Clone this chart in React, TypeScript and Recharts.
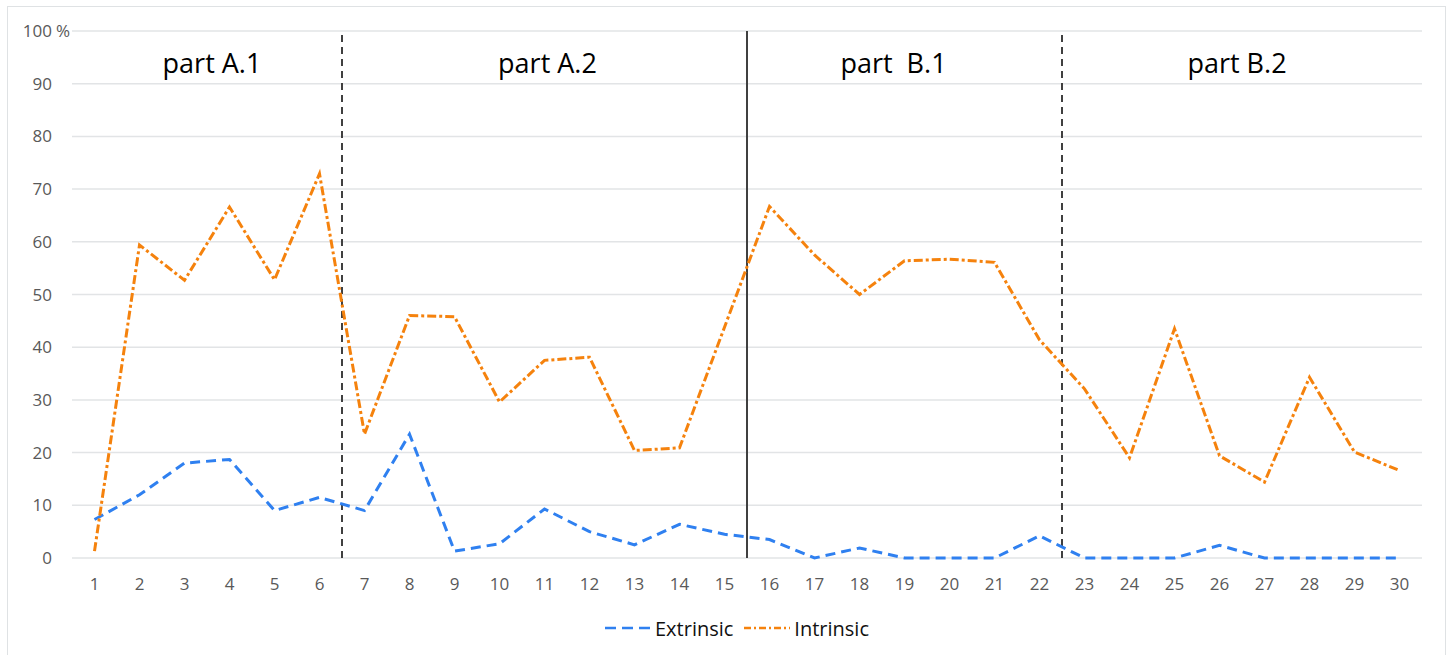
import {
  CartesianGrid,
  Legend,
  Line,
  LineChart,
  ReferenceArea,
  ReferenceLine,
  XAxis,
  YAxis,
} from "recharts";

const tasks = [
  1, 2, 3, 4, 5, 6, 7, 8, 9, 10, 11, 12, 13, 14, 15,
  16, 17, 18, 19, 20, 21, 22, 23, 24, 25, 26, 27, 28, 29, 30,
];
const extrinsic = [
  7.3, 12, 18, 18.7, 9, 11.5, 9, 23.5, 1.3, 2.7, 9.3, 5, 2.5, 6.4, 4.5,
  3.5, 0, 1.9, 0, 0, 0, 4.2, 0, 0, 0, 2.4, 0, 0, 0, 0,
];
const intrinsic = [
  1.3, 59.4, 52.7, 66.6, 52.8, 72.9, 23.5, 46, 45.8, 29.6, 37.5, 38.1, 20.4, 20.9, 43.8,
  66.7, 57.5, 50, 56.4, 56.7, 56.1, 41.4, 32.1, 19, 43.5, 19.4, 14.4, 34.3, 20.1, 16.6,
];
const yTicks = [0, 10, 20, 30, 40, 50, 60, 70, 80, 90, 100];
const partNames = ["part A.1", "part A.2", "part\u00a0\u00a0B.1", "part B.2"];
const partBounds = [0.5, 6.5, 15.5, 22.5, 30.5];
const dividerDash = ["7 5", undefined, "7 5"];

// the part titles sit a little off the middle of their sections
const titleShift = [5, 3, -11, -5];

const data = tasks.map((t, i) => ({
  t,
  extrinsic: extrinsic[i],
  intrinsic: intrinsic[i],
}));

const BLUE = "#2F80F0";
const ORANGE = "#F5820D";
const FONT = "'Open Sans', sans-serif";

function YTick(props: any) {
  const { x, y, payload } = props;
  return (
    <g>
      <text x={x} y={y} dy="0.355em" textAnchor="end" fill="#595959" fontSize={17} fontFamily={FONT}>
        {payload.value}
      </text>
      {payload.value === 100 && (
        <text x={x + 4} y={y} dy="0.355em" fill="#595959" fontSize={17} fontFamily={FONT}>
          %
        </text>
      )}
    </g>
  );
}

function PartTitle(props: any) {
  const { viewBox, value, shift } = props;
  const cx = viewBox.x + viewBox.width / 2 + shift;
  return (
    <text
      x={cx}
      y={viewBox.y + 22}
      dy="0.75em"
      textAnchor="middle"
      fill="#000"
      fontSize={27}
      fontFamily={FONT}
      style={{ whiteSpace: "pre" }}
    >
      {value}
    </text>
  );
}

function LegendBox() {
  const item = (label: string, color: string, dash: string, gap: number) => (
    <div style={{ display: "flex", alignItems: "center", marginRight: gap }}>
      <svg width={46} height={10}>
        <line x1={0} y1={5} x2={46} y2={5} stroke={color} strokeWidth={2.5} strokeDasharray={dash} />
      </svg>
      <span style={{ marginLeft: 4, fontSize: 20, color: "#111" }}>{label}</span>
    </div>
  );
  return (
    <div
      style={{
        height: 30,
        display: "flex",
        justifyContent: "center",
        alignItems: "center",
        fontFamily: FONT,
        paddingLeft: 52,
      }}
    >
      {item("Extrinsic", BLUE, "11 6", 11)}
      {item("Intrinsic", ORANGE, "7 3 2 3", 0)}
    </div>
  );
}

export default function App() {
  return (
    <div style={{ position: "absolute", left: 0, top: 0, width: 1448, height: 655, background: "#fff" }}>
      <div
        style={{
          position: "absolute",
          left: 7,
          top: 6,
          width: 1437,
          height: 700,
          border: "1px solid #dfe2e4",
        }}
      />
      <LineChart
        width={1448}
        height={655}
        data={data}
        margin={{ top: 31, right: 26, bottom: 12, left: 0 }}
        style={{ position: "absolute", left: 0, top: 0 }}
      >
        <CartesianGrid vertical={false} stroke="#e2e4e6" strokeWidth={1.5} />
        <XAxis
          dataKey="t"
          type="number"
          domain={[0.5, 30.5]}
          ticks={tasks}
          axisLine={false}
          tickLine={false}
          tickMargin={14}
          height={55}
          interval={0}
          tick={{ fill: "#595959", fontSize: 17, fontFamily: FONT }}
        />
        <YAxis
          domain={[0, 100]}
          ticks={yTicks}
          width={72}
          axisLine={false}
          tickLine={false}
          tickMargin={14}
          tick={<YTick />}
        />
        {partNames.map((name, i) => (
          <ReferenceArea
            key={name}
            x1={partBounds[i]}
            x2={partBounds[i + 1]}
            y1={0}
            y2={100}
            fill="none"
            fillOpacity={0}
            label={<PartTitle value={name} shift={titleShift[i]} />}
          />
        ))}
        {dividerDash.map((dash, i) => (
          <ReferenceLine
            key={i}
            x={partBounds[i + 1]}
            stroke="#404040"
            strokeWidth={2}
            strokeDasharray={dash}
          />
        ))}
        <Line
          type="linear"
          dataKey="extrinsic"
          name="Extrinsic"
          stroke={BLUE}
          strokeWidth={3}
          strokeDasharray="10 6"
          dot={false}
          activeDot={false}
          isAnimationActive={false}
        />
        <Line
          type="linear"
          dataKey="intrinsic"
          name="Intrinsic"
          stroke={ORANGE}
          strokeWidth={3}
          strokeDasharray="9 3 3 3"
          dot={false}
          activeDot={false}
          isAnimationActive={false}
        />
        <Legend verticalAlign="bottom" content={<LegendBox />} />
      </LineChart>
    </div>
  );
}
